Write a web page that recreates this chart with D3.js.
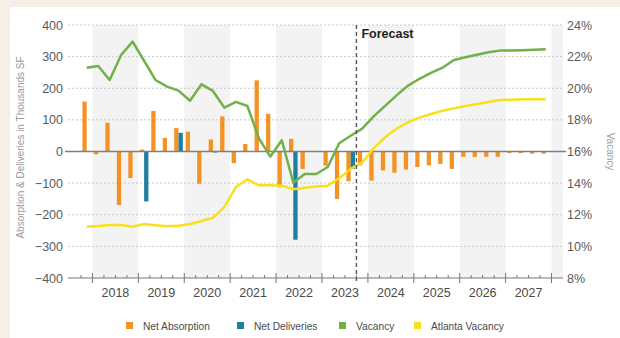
<!DOCTYPE html>
<html>
<head>
<meta charset="utf-8">
<script src="https://cdn.jsdelivr.net/npm/d3@7"></script>
<style>
  html, body { margin: 0; padding: 0; background: #f6efe6; }
  svg { display: block; font-family: "Liberation Sans", Arial, sans-serif; }
</style>
</head>
<body>
<svg id="chart" width="620" height="338"></svg>
<script>
// Quarterly series, 2017 Q4 through 2027 Q4
const quarters = [
  "2017 Q4",
  "2018 Q1","2018 Q2","2018 Q3","2018 Q4",
  "2019 Q1","2019 Q2","2019 Q3","2019 Q4",
  "2020 Q1","2020 Q2","2020 Q3","2020 Q4",
  "2021 Q1","2021 Q2","2021 Q3","2021 Q4",
  "2022 Q1","2022 Q2","2022 Q3","2022 Q4",
  "2023 Q1","2023 Q2","2023 Q3","2023 Q4",
  "2024 Q1","2024 Q2","2024 Q3","2024 Q4",
  "2025 Q1","2025 Q2","2025 Q3","2025 Q4",
  "2026 Q1","2026 Q2","2026 Q3","2026 Q4",
  "2027 Q1","2027 Q2","2027 Q3","2027 Q4"
];

// Thousands of SF
const netAbsorption = [
  158,
  -9, 91, -169, -84,
  6, 128, 43, 74,
  63, -102, 38, 111,
  -37, 24, 225, 119,
  -113, 40, -55, 0,
  -45, -150, -94, -44,
  -92, -60, -67, -57,
  -49, -44, -39, -55,
  -17, -17, -17, -17,
  -5, -5, -7, -7
];

const netDeliveries = [
  0,
  0, 0, 0, 0,
  -158, 0, 0, 59,
  0, 0, -2, 0,
  0, 0, 0, 0,
  0, -279, 0, 0,
  0, 0, -55, 0,
  0, 0, 0, 0,
  0, 0, 0, 0,
  0, 0, 0, 0,
  0, 0, 0, 0
];

// Percent
const vacancy = [
  21.30,
  21.41, 20.52, 22.10, 22.95,
  21.74, 20.52, 20.10, 19.85,
  19.21, 20.25, 19.83, 18.77,
  19.14, 18.88, 16.84, 15.68,
  16.71, 14.03, 14.58, 14.58,
  15.02, 16.52, 17.00, 17.45,
  18.22, 18.89, 19.55, 20.17,
  20.60, 20.97, 21.30, 21.79,
  21.96, 22.12, 22.28, 22.38,
  22.38, 22.40, 22.43, 22.47
];

const atlantaVacancy = [
  11.24,
  11.29, 11.35, 11.35, 11.24,
  11.42, 11.33, 11.27, 11.31,
  11.42, 11.61, 11.81, 12.50,
  13.75, 14.24, 13.86, 13.86,
  13.84, 13.61, 13.71, 13.78,
  13.84, 14.31, 14.90, 15.30,
  16.20, 16.90, 17.45, 17.85,
  18.14, 18.37, 18.58, 18.73,
  18.88, 19.00, 19.13, 19.26,
  19.28, 19.30, 19.30, 19.30
];

const leftTicks = [-400, -300, -200, -100, 0, 100, 200, 300, 400];
const rightTicks = [8, 10, 12, 14, 16, 18, 20, 22, 24];
const yearLabels = ["2018","2019","2020","2021","2022","2023","2024","2025","2026","2027"];
const forecastStart = "2023 Q4";

const seriesNames = ["Net Absorption", "Net Deliveries", "Vacancy", "Atlanta Vacancy"];
const seriesColors = ["#f39325", "#1f7fa1", "#72b04a", "#f8e01c"];

// quarter index along the axis: 2017 Q3 = 0
function qIndex(label) {
  const [y, q] = label.split(" ");
  return (+y - 2017) * 4 + (+q.slice(1) - 1) - 2;
}

const svg = d3.select("#chart");
const W = 620, H = 338;

// white panel on the beige page
svg.append("rect").attr("x", 10).attr("y", 7).attr("width", W - 10).attr("height", H - 7).attr("fill", "#ffffff");

const plot = { left: 68, right: 563, top: 25, bottom: 278 };

const x = d3.scaleLinear().domain([0, 43]).range([69.5, plot.right]);
const yL = d3.scaleLinear().domain([-400, 400]).range([plot.bottom, plot.top]);
const yR = d3.scaleLinear().domain([8, 24]).range([plot.bottom, plot.top]);

// alternating year bands
const bandYears = d3.range(2018, 2029);
svg.append("g").selectAll("rect")
  .data(bandYears.filter(y => y % 2 === 0))
  .join("rect")
  .attr("x", y => x(qIndex(y + " Q1")))
  .attr("width", y => Math.min(x(qIndex(y + " Q1") + 4), plot.right) - x(qIndex(y + " Q1")))
  .attr("y", plot.top)
  .attr("height", plot.bottom - plot.top)
  .attr("fill", "#f3f3f3");

// dotted grid
svg.append("g").selectAll("line")
  .data(leftTicks.filter(v => v !== 0 && v !== -400))
  .join("line")
  .attr("x1", plot.left).attr("x2", plot.right)
  .attr("y1", v => yL(v)).attr("y2", v => yL(v))
  .attr("stroke", "#c9c9c9").attr("stroke-width", 1)
  .attr("stroke-dasharray", "2,2");

// left axis
const gL = svg.append("g").attr("transform", `translate(${plot.left},0)`)
  .call(d3.axisLeft(yL).tickValues(leftTicks).tickSize(0).tickPadding(5));
gL.select(".domain").remove();
gL.selectAll("text").attr("fill", "#5a5a5a").style("font-size", "12.5px");

// right axis
const gR = svg.append("g").attr("transform", `translate(${plot.right},0)`)
  .call(d3.axisRight(yR).tickValues(rightTicks).tickFormat(d => d + "%").tickSize(0).tickPadding(4));
gR.select(".domain").remove();
gR.selectAll("text").attr("fill", "#5a5a5a").style("font-size", "12.5px");

// axis titles
svg.append("text")
  .attr("transform", `translate(24,${(plot.top + plot.bottom) / 2 - 4}) rotate(-90)`)
  .attr("text-anchor", "middle")
  .attr("fill", "#9a9a9a").style("font-size", "10px")
  .text("Absorption & Deliveries in Thousands SF");

svg.append("text")
  .attr("transform", `translate(607,${(plot.top + plot.bottom) / 2}) rotate(90)`)
  .attr("text-anchor", "middle")
  .attr("fill", "#9a9a9a").style("font-size", "10px")
  .text("Vacancy");

// bars: absorption left of quarter centre, deliveries right
const barW = 4.3;
const center = i => x(qIndex(quarters[i]) + 0.5);

svg.append("g").selectAll("rect")
  .data(netAbsorption.map((v, i) => ({ v, i })).filter(d => d.v !== 0))
  .join("rect")
  .attr("x", d => center(d.i) - barW)
  .attr("width", barW)
  .attr("y", d => yL(Math.max(0, d.v)))
  .attr("height", d => Math.abs(yL(d.v) - yL(0)))
  .attr("fill", seriesColors[0]);

svg.append("g").selectAll("rect")
  .data(netDeliveries.map((v, i) => ({ v, i })).filter(d => d.v !== 0))
  .join("rect")
  .attr("x", d => center(d.i))
  .attr("width", barW)
  .attr("y", d => yL(Math.max(0, d.v)))
  .attr("height", d => Math.max(1, Math.abs(yL(d.v) - yL(0))))
  .attr("fill", seriesColors[1]);

// zero line
svg.append("line")
  .attr("x1", plot.left - 3).attr("x2", plot.right + 3)
  .attr("y1", yL(0)).attr("y2", yL(0))
  .attr("stroke", "#808080").attr("stroke-width", 1.5);

// vacancy lines
const line = d3.line().x((d, i) => center(i)).y(d => yR(d));
svg.append("path").datum(atlantaVacancy)
  .attr("d", line).attr("fill", "none")
  .attr("stroke", seriesColors[3]).attr("stroke-width", 2.5).attr("stroke-linejoin", "round");
svg.append("path").datum(vacancy)
  .attr("d", line).attr("fill", "none")
  .attr("stroke", seriesColors[2]).attr("stroke-width", 2.5).attr("stroke-linejoin", "round");

// bottom axis with quarterly minor and yearly major ticks
svg.append("line")
  .attr("x1", plot.left).attr("x2", plot.right)
  .attr("y1", plot.bottom).attr("y2", plot.bottom)
  .attr("stroke", "#777").attr("stroke-width", 1);

const boundaries = d3.range(1, 43);
svg.append("g").selectAll("line")
  .data(boundaries)
  .join("line")
  .attr("x1", q => x(q)).attr("x2", q => x(q))
  .attr("y1", q => (q - 2) % 4 === 0 ? plot.bottom - 5 : plot.bottom - 3)
  .attr("y2", q => (q - 2) % 4 === 0 ? plot.bottom + 5 : plot.bottom)
  .attr("stroke", "#777").attr("stroke-width", 1);

svg.append("g").selectAll("text")
  .data(yearLabels)
  .join("text")
  .attr("x", y => x(qIndex(y + " Q1") + 2))
  .attr("y", 297)
  .attr("text-anchor", "middle")
  .attr("fill", "#4a4a4a").style("font-size", "12.5px")
  .text(y => y);

// forecast divider
const fx = x(qIndex(forecastStart));
svg.append("line")
  .attr("x1", fx).attr("x2", fx)
  .attr("y1", plot.top).attr("y2", plot.bottom + 5)
  .attr("stroke", "#555").attr("stroke-width", 1.4)
  .attr("stroke-dasharray", "4,3");
svg.append("text")
  .attr("x", fx + 5).attr("y", 38)
  .attr("fill", "#222").style("font-size", "12.5px").style("font-weight", "bold")
  .text("Forecast");

// legend
const legendX = [126, 237, 339, 414];
const lg = svg.append("g").selectAll("g")
  .data(seriesNames)
  .join("g")
  .attr("transform", (d, i) => `translate(${legendX[i]},322)`);
lg.append("rect").attr("width", 7).attr("height", 7).attr("fill", (d, i) => seriesColors[i]);
lg.append("text").attr("x", 17).attr("y", 7.5)
  .attr("fill", "#4a4a4a").style("font-size", "10.2px")
  .text(d => d);
</script>
</body>
</html>
